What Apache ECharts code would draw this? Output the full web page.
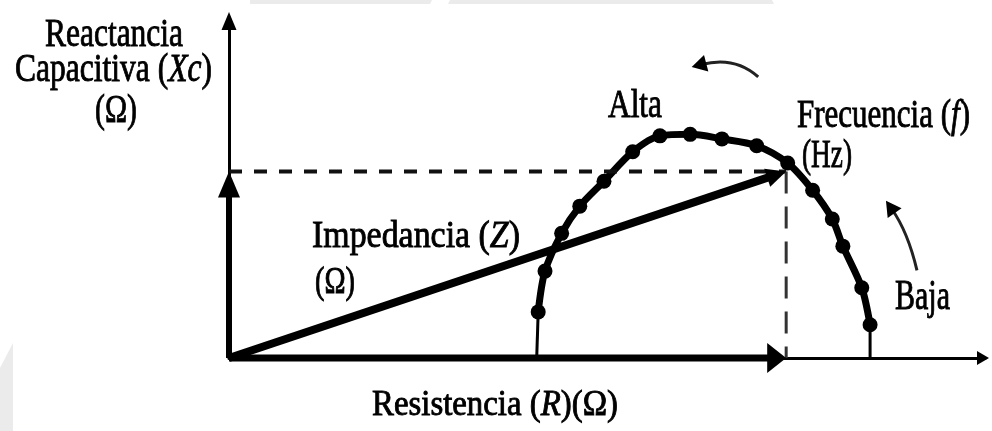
<!DOCTYPE html>
<html>
<head>
<meta charset="utf-8">
<script src="https://cdn.jsdelivr.net/npm/echarts@6/dist/echarts.min.js"></script>
<style>
  html, body { margin: 0; padding: 0; background: #fff; }
  #chart { width: 992px; height: 431px; }
</style>
</head>
<body>
<div id="chart"></div>
<script>
// Impedance locus (Nyquist diagram): resistance R vs capacitive reactance Xc, in Ω
const arcR  = [40.7, 40.9, 41.8, 44.0, 46.4, 49.6, 53.4, 57.0, 61.0, 65.2, 69.8, 73.9, 77.2, 79.8, 81.2, 83.7, 84.8, 84.8];
const arcXc = [0.0, 6.1, 11.5, 16.5, 20.1, 23.4, 27.3, 29.4, 29.6, 29.0, 28.1, 25.8, 22.2, 18.4, 14.8, 9.3, 4.4, 0.0];

// impedance Z at the marked frequency, split into its R and Xc components
const impedanceR  = 73.7;
const impedanceXc = 24.7;

// axis ranges
const rRange  = [0, 100];
const xcRange = [0, 45];

// frequency-direction arrows: tail, control point, tip (R, Xc)
const altaArrow = [70.0, 37.2, 66.9, 40.0, 61.2, 38.5];
const bajaArrow = [91.0, 11.6, 89.8, 16.7, 86.9, 20.8];

const SERIF = '"Liberation Serif", "Times New Roman", serif';
const INK = '#000';

// text blocks: parts are [text, italic]
const labels = [
  { parts: [['Reactancia', false]], x: 45, baseline: 49, width: 138, size: 40 },
  { parts: [['Capacitiva (', false], ['Xc', true], [')', false]], x: 15, baseline: 84, width: 197, size: 40 },
  { parts: [['(Ω)', false]], x: 95, baseline: 125, width: 42, size: 40 },
  { parts: [['Alta', false]], x: 608, baseline: 120, width: 54, size: 40 },
  { parts: [['Frecuencia (', false], ['f', true], [')', false]], x: 797, baseline: 130, width: 173, size: 40 },
  { parts: [['(Hz)', false]], x: 802, baseline: 170, width: 50, size: 40 },
  { parts: [['Baja', false]], x: 895, baseline: 312, width: 55, size: 42 },
  { parts: [['Impedancia (', false], ['Z', true], [')', false]], x: 312, baseline: 250, width: 208, size: 38 },
  { parts: [['(Ω)', false]], x: 315, baseline: 296, width: 40, size: 38 },
  { parts: [['Resistencia (', false], ['R', true], [')(Ω)', false]], x: 372, baseline: 418, width: 246, size: 36 }
];

const measureCtx = document.createElement('canvas').getContext('2d');
function fontOf(size, italic) {
  return (italic ? 'italic ' : '') + size + 'px ' + SERIF;
}
function buildLabel(spec) {
  let cursor = 0;
  const children = [];
  spec.parts.forEach(function (p) {
    const f = fontOf(spec.size, p[1]);
    measureCtx.font = f;
    children.push({
      type: 'text', x: cursor, y: 0,
      style: { text: p[0], font: f, fill: INK, stroke: INK, lineWidth: 0.9,
               align: 'left', verticalAlign: 'middle',
               textAlign: 'left', textVerticalAlign: 'middle' }
    });
    cursor += measureCtx.measureText(p[0]).width;
  });
  return {
    type: 'group', x: spec.x, y: spec.baseline - 0.3375 * spec.size,
    scaleX: spec.width / cursor, children: children, z: 10
  };
}

// faint page-background shapes
const backdrop = [
  [[250, 0], [432, 0], [430, 4], [250, 4]],
  [[450, 0], [772, 0], [774, 4], [448, 4]],
  [[0, 368], [13, 343], [13, 431], [0, 431]]
].map(function (pts) {
  return { type: 'polygon', shape: { points: pts }, style: { fill: '#ebebeb' }, z: -10, silent: true };
});

// straight vectors with solid heads (R, Xc, Z)
const vectorData = [
  [0, 0, impedanceR, 0],
  [0, 0, 0, impedanceXc],
  [0, 0, impedanceR, impedanceXc]
];
const vectorLook = [
  { width: 7, headLen: 19, headWid: 30 },
  { width: 6, headLen: 26, headWid: 22 },
  { width: 8, headLen: 20, headWid: 19 }
];
function arrowHead(tip, ux, uy, len, wid) {
  const bx = tip[0] - ux * len, by = tip[1] - uy * len;
  const nx = -uy, ny = ux;
  return {
    type: 'polygon',
    shape: { points: [[tip[0], tip[1]], [bx + nx * wid / 2, by + ny * wid / 2], [bx - nx * wid / 2, by - ny * wid / 2]] },
    style: { fill: INK }
  };
}
function renderVector(params, api) {
  const look = vectorLook[params.dataIndex];
  const p0 = api.coord([api.value(0), api.value(1)]);
  const p1 = api.coord([api.value(2), api.value(3)]);
  const dx = p1[0] - p0[0], dy = p1[1] - p0[1];
  const len = Math.hypot(dx, dy);
  const ux = dx / len, uy = dy / len;
  const ex = p1[0] - ux * (look.headLen - 2), ey = p1[1] - uy * (look.headLen - 2);
  return {
    type: 'group',
    children: [
      { type: 'line', shape: { x1: p0[0], y1: p0[1], x2: ex, y2: ey }, style: { stroke: INK, lineWidth: look.width } },
      arrowHead(p1, ux, uy, look.headLen, look.headWid)
    ]
  };
}

// curved frequency-direction arrows
function renderCurved(params, api) {
  const a = api.coord([api.value(0), api.value(1)]);
  const c = api.coord([api.value(2), api.value(3)]);
  const b = api.coord([api.value(4), api.value(5)]);
  const dx = b[0] - c[0], dy = b[1] - c[1];
  const len = Math.hypot(dx, dy);
  const ux = dx / len, uy = dy / len;
  const headLen = 15, headWid = 17;
  return {
    type: 'group',
    children: [
      { type: 'bezierCurve',
        shape: { x1: a[0], y1: a[1], cpx1: c[0], cpy1: c[1], x2: b[0] - ux * 10, y2: b[1] - uy * 10 },
        style: { stroke: '#222', lineWidth: 3, fill: null } },
      arrowHead(b, ux, uy, headLen, headWid)
    ]
  };
}

const hiddenParts = {
  axisTick: { show: false },
  axisLabel: { show: false },
  splitLine: { show: false }
};

const chart = echarts.init(document.getElementById('chart'), null, { renderer: 'canvas' });
chart.setOption({
  animation: false,
  backgroundColor: '#fff',
  grid: { left: 229, top: 18, width: 756, height: 340 },
  xAxis: Object.assign({
    type: 'value', min: rRange[0], max: rRange[1],
    axisLine: { show: true, onZero: false, lineStyle: { color: INK, width: 3 },
                symbol: ['none', 'triangle'], symbolSize: [14, 12], symbolOffset: [0, -2] }
  }, hiddenParts),
  yAxis: Object.assign({
    type: 'value', min: xcRange[0], max: xcRange[1],
    axisLine: { show: true, onZero: false, lineStyle: { color: INK, width: 3 },
                symbol: ['none', 'triangle'], symbolSize: [15, 18], symbolOffset: [0, -3] }
  }, hiddenParts),
  graphic: backdrop.concat(labels.map(buildLabel)),
  series: [
    {
      // thin feet of the locus down to the R axis
      type: 'line', symbol: 'none', silent: true,
      lineStyle: { color: INK, width: 3 },
      data: [[arcR[0], arcXc[0]], [arcR[1], arcXc[1]]]
    },
    {
      type: 'line', symbol: 'none', silent: true,
      lineStyle: { color: INK, width: 3 },
      data: [[arcR[arcR.length - 2], arcXc[arcXc.length - 2]], [arcR[arcR.length - 1], arcXc[arcXc.length - 1]]]
    },
    {
      // measured points of the locus
      type: 'line', smooth: 0.3, silent: true,
      symbol: 'circle', symbolSize: 15,
      itemStyle: { color: INK },
      lineStyle: { color: INK, width: 7 },
      data: arcR.slice(1, -1).map(function (r, i) { return [r, arcXc[i + 1]]; })
    },
    {
      // projection of Z onto the Xc axis
      type: 'line', symbol: 'none', silent: true,
      lineStyle: { color: '#111', width: 4, type: [13, 12] },
      data: [[0, impedanceXc], [impedanceR, impedanceXc]]
    },
    {
      // projection of Z onto the R axis
      type: 'line', symbol: 'none', silent: true,
      lineStyle: { color: '#333', width: 3, type: [22, 13] },
      data: [[impedanceR, impedanceXc], [impedanceR, 0]]
    },
    {
      type: 'custom', silent: true,
      renderItem: renderVector,
      encode: { x: [0, 2], y: [1, 3] },
      data: vectorData, z: 5
    },
    {
      type: 'custom', silent: true,
      renderItem: renderCurved,
      encode: { x: [0, 2, 4], y: [1, 3, 5] },
      data: [altaArrow, bajaArrow], z: 5
    }
  ]
});
</script>
</body>
</html>
